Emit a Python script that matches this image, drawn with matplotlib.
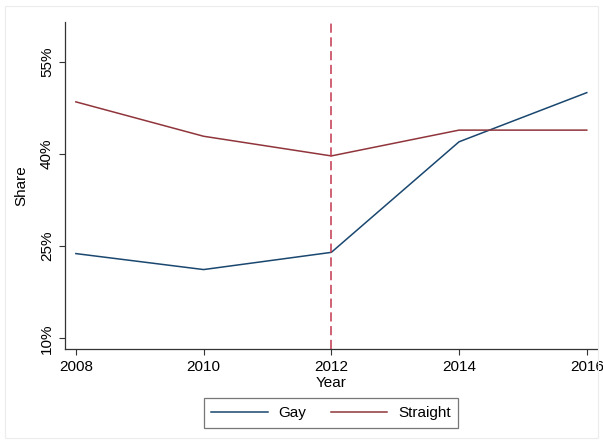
import matplotlib.pyplot as plt
from matplotlib.patches import Rectangle

years = [2008, 2010, 2012, 2014, 2016]
gay = [23.8, 21.2, 24.0, 42.0, 50.0]
straight = [48.5, 42.9, 39.7, 43.9, 43.9]
yticks = [10, 25, 40, 55]
policy_year = 2012

plt.rcParams['font.family'] = ['Liberation Sans', 'DejaVu Sans']

fig = plt.figure(figsize=(6.03, 4.43), dpi=100)
fig.patches.append(Rectangle((5/603, 5/443), 593/603, 432/443, transform=fig.transFigure,
                             fill=False, edgecolor='#ececec', lw=0.8))
ax = fig.add_axes([65/603, 1 - 348.5/443, 532/603, 326.5/443])

ax.plot(years, gay, color='#1a476f', lw=1.1, label='Gay')
ax.plot(years, straight, color='#90353b', lw=1.1, label='Straight')
ax.axvline(policy_year, color='#c4374f', lw=1.1, ls=(0, (6, 3)))

ax.set_xlim(2007.83, 2016.16)
ax.set_ylim(8.35, 61.5)
ax.set_xticks(years)
ax.set_yticks(yticks)
ax.set_yticklabels([f'{v}%' for v in yticks], rotation=90, va='center')
ax.tick_params(labelsize=11, length=4, width=0.8, color='#333333', pad=4)
ax.set_xlabel('Year', fontsize=11, labelpad=2)
ax.set_ylabel('Share', fontsize=11, labelpad=8)

for side in ['top', 'right']:
    ax.spines[side].set_visible(False)
for side in ['left', 'bottom']:
    ax.spines[side].set_linewidth(0.9)
    ax.spines[side].set_color('#333333')

leg = ax.legend(loc='upper center', bbox_to_anchor=(0.5, -0.153), ncol=2, fontsize=11,
                frameon=True, fancybox=False, edgecolor='#555555', handlelength=3.7,
                columnspacing=1.6, borderpad=0.5, handletextpad=0.7, borderaxespad=0)
leg.get_frame().set_linewidth(0.9)

fig.savefig('out.png', dpi=100)
